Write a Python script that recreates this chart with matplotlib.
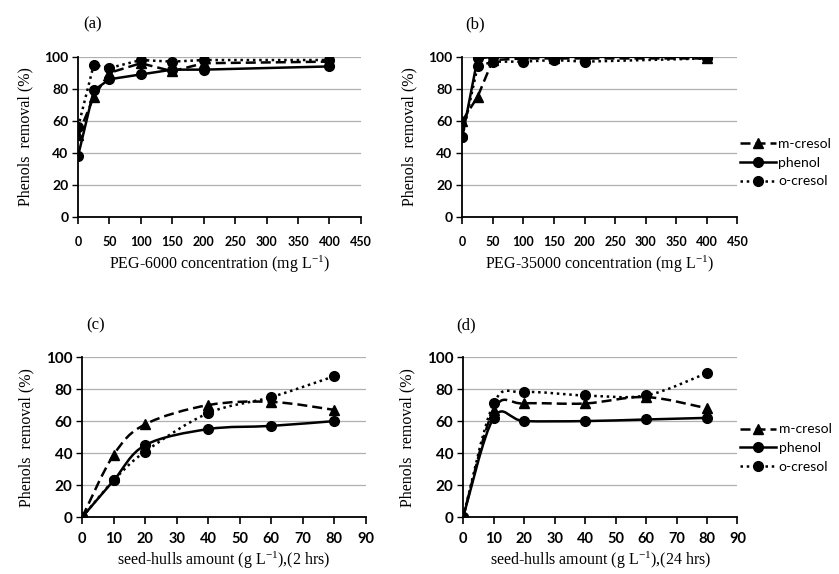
import numpy as np
import matplotlib
matplotlib.use("Agg")
import matplotlib.pyplot as plt
from matplotlib.path import Path
from matplotlib.patches import PathPatch

# PEG panels (a), (b)
peg_x = [0, 25, 50, 100, 150, 200, 400]
a_mcresol = [51, 75, 90, 96, 91, 96, 97]
a_phenol = [38, 79, 86, 89, 92, 92, 94]
a_ocresol = [56, 95, 93, 98, 97, 98, 98]
b_mcresol = [60, 75, 98, 99, 99, 99, 99]
b_phenol = [50, 99, 100, 100, 100, 100, 100]
b_ocresol = [50, 94, 97, 97, 98, 97, 99]

# seed-hull panels (c), (d)
hull_x = [0, 10, 20, 40, 60, 80]
c_mcresol = [0, 39, 58, 70, 72, 67]
c_phenol = [0, 23, 45, 55, 57, 60]
c_ocresol = [0, 23, 41, 65, 75, 88]
d_mcresol = [0, 67, 71, 71, 75, 68]
d_phenol = [0, 62, 60, 60, 61, 62]
d_ocresol = [0, 71, 78, 76, 76, 90]

series_names = ["m-cresol", "phenol", "o-cresol"]
styles = [dict(ls=(0, (4, 2)), marker="^"),
          dict(ls="-", marker="o"),
          dict(ls=(0, (1, 1.5)), marker="o")]

serif = ["Liberation Serif", "DejaVu Serif"]
sans = ["Lato", "DejaVu Sans"]

plt.rcParams["mathtext.fontset"] = "custom"
plt.rcParams["mathtext.rm"] = "Liberation Serif"
plt.rcParams["mathtext.it"] = "Liberation Serif:italic"


def smooth_path(ax, x, y, ls):
    """Excel-like smoothed line: cardinal spline drawn as cubic beziers"""
    pts = np.column_stack([x, y]).astype(float)
    verts = [pts[0]]
    codes = [Path.MOVETO]
    n = len(pts)
    for i in range(n - 1):
        p0 = pts[max(i - 1, 0)]
        p1 = pts[i]
        p2 = pts[i + 1]
        p3 = pts[min(i + 2, n - 1)]
        c1 = p1 + (p2 - p0) / 6.0
        c2 = p2 - (p3 - p1) / 6.0
        verts += [c1, c2, p2]
        codes += [Path.CURVE4] * 3
    patch = PathPatch(Path(verts, codes), fill=False, lw=1.8, ls=ls,
                      edgecolor="black", zorder=3)
    ax.add_patch(patch)


def setup(ax, xmax, xstep, xlabel, tag, tagx, big):
    ax.set_ylim(0, 100)
    ax.set_xlim(0, xmax)
    ax.set_yticks(range(0, 101, 20))
    ax.set_xticks(range(0, xmax + 1, xstep))
    ax.yaxis.grid(True, color="#b0b0b0", lw=0.9)
    ax.set_axisbelow(True)
    for s in ["top", "right"]:
        ax.spines[s].set_visible(False)
    ax.spines["left"].set_linewidth(1.3)
    ax.spines["bottom"].set_linewidth(1.3)
    ax.tick_params(axis="x", direction="out", length=5, width=1.2,
                   pad=6 if big else 9, labelsize=10.5 if big else 9)
    ax.tick_params(axis="y", length=4, width=1.0, pad=3,
                   labelsize=11 if big else 10)
    for lab in ax.get_xticklabels() + ax.get_yticklabels():
        lab.set_family(sans)
        lab.set_fontweight("bold")
    ax.set_xlabel(xlabel, family=serif, fontsize=11.5,
                  labelpad=2 if big else 4)
    ax.set_ylabel("Phenols  removal (%)", family=serif, fontsize=11.5,
                  labelpad=8)
    ax.text(tagx, 1.2, tag, transform=ax.transAxes, family=serif,
            fontsize=12, ha="center", va="center")


fig = plt.figure(figsize=(8.39, 5.74), dpi=100)
ax_a = fig.add_axes([0.093, 0.622, 0.337, 0.279])
ax_b = fig.add_axes([0.551, 0.622, 0.328, 0.279])
ax_c = fig.add_axes([0.098, 0.099, 0.338, 0.279])
ax_d = fig.add_axes([0.552, 0.099, 0.327, 0.279])

panels = [
    (ax_a, peg_x, [a_mcresol, a_phenol, a_ocresol], False),
    (ax_b, peg_x, [b_mcresol, b_phenol, b_ocresol], False),
    (ax_c, hull_x, [c_mcresol, c_phenol, c_ocresol], True),
    (ax_d, hull_x, [d_mcresol, d_phenol, d_ocresol], True),
]

for ax, x, ys, smooth in panels:
    for name, y, st in zip(series_names, ys, styles):
        if smooth:
            smooth_path(ax, x, y, st["ls"])
            ax.plot(x, y, ls="none", marker=st["marker"], ms=7,
                    color="black", zorder=4)
            ax.plot([], [], ls=st["ls"], marker=st["marker"], ms=7,
                    lw=1.8, color="black", label=name)
        else:
            ax.plot(x, y, ls=st["ls"], marker=st["marker"], ms=7,
                    lw=1.8, color="black", label=name, zorder=3)

setup(ax_a, 450, 50, "PEG-6000 concentration (mg L$^{-1}$)", "(a)", 0.05,
      False)
setup(ax_b, 450, 50, "PEG-35000 concentration (mg L$^{-1}$)", "(b)", 0.045,
      False)
setup(ax_c, 90, 10, "seed-hulls amount (g L$^{-1}$),(2 hrs)", "(c)", 0.046,
      True)
setup(ax_d, 90, 10, "seed-hulls amount (g L$^{-1}$),(24 hrs)", "(d)", 0.01,
      True)

for ax, ly in [(ax_b, 0.34), (ax_d, 0.43)]:
    ax.legend(loc="center left", bbox_to_anchor=(0.985, ly), frameon=False,
              prop={"family": sans, "size": 10}, handlelength=2.6,
              handletextpad=0.15, labelspacing=0.5, borderpad=0)

fig.savefig("out.png", dpi=100, facecolor="white")
